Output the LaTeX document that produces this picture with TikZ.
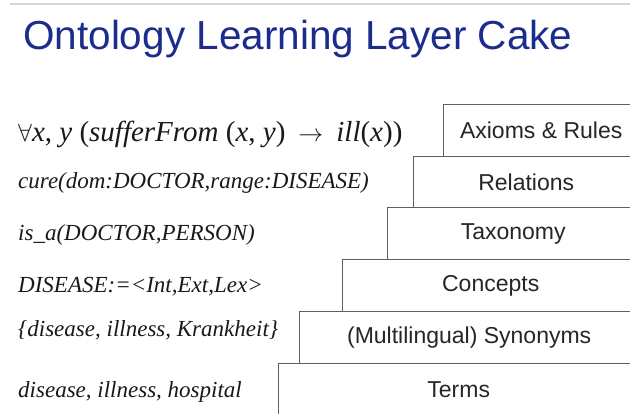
\documentclass[tikz,border=0pt]{standalone}
\usepackage{fontspec}
\setmainfont{Liberation Serif}
\newfontfamily\arialf{Liberation Sans}
\definecolor{titleblue}{RGB}{28,44,140}
\definecolor{boxline}{RGB}{95,95,95}
\definecolor{topline}{RGB}{205,218,228}
\definecolor{lefttext}{RGB}{25,25,25}
\begin{document}
\begin{tikzpicture}[x=1pt,y=-1pt,
  layer/.style={draw=boxline, line width=1.4pt, fill=white, anchor=north west,
    inner sep=0pt, minimum height=52pt, text=black!85,
    font=\arialf\fontsize{23}{27}\selectfont},
  example/.style={anchor=base west, inner sep=0pt, text=lefttext,
    font=\fontsize{23}{27}\selectfont\itshape},
  titletext/.style={anchor=base west, inner sep=0pt, text=titleblue,
    font=\arialf\fontsize{40.5}{46}\selectfont}]
\clip (0,0) rectangle (630,414);
\fill[white] (0,0) rectangle (630,414);
\coordinate (tl) at (10,4);
\coordinate (tr) at (630,4);
\draw[topline, line width=1.5pt] (tl) -- (tr);
\node[titletext] (title) at (23,50) {Ontology Learning Layer Cake};
% layers
\node[layer, minimum width=195pt] (axioms) at (443,104) {Axioms \& Rules};
\node[layer, minimum width=225pt] (relations) at (413,156) {Relations};
\node[layer, minimum width=251pt] (taxonomy) at (387,207) {Taxonomy};
\node[layer, minimum width=296pt] (concepts) at (342,259) {Concepts};
\node[layer, minimum width=339pt] (synonyms) at (299,311) {(Multilingual) Synonyms};
\node[layer, minimum width=360pt] (terms) at (278,363) {Terms};
% examples
\node[example, font=\fontsize{29}{32}\selectfont] (ex1) at (18,142)
  {$\forall$\textit{x}, \textit{y} (\textit{sufferFrom} (\textit{x}, \textit{y})\hspace{0.45em}$\rightarrow$\hspace{0.45em}\textit{ill}(\textit{x}))};
\node[example] (ex2) at (18,189) {cure(dom:DOCTOR,range:DISEASE)};
\node[example] (ex3) at (18,241) {is\_a(DOCTOR,PERSON)};
\node[example] (ex4) at (18,293) {DISEASE:=<Int,Ext,Lex>};
\node[example] (ex5) at (18,337) {\{disease, illness, Krankheit\}};
\node[example] (ex6) at (18,398) {disease, illness, hospital};
\end{tikzpicture}
\end{document}
